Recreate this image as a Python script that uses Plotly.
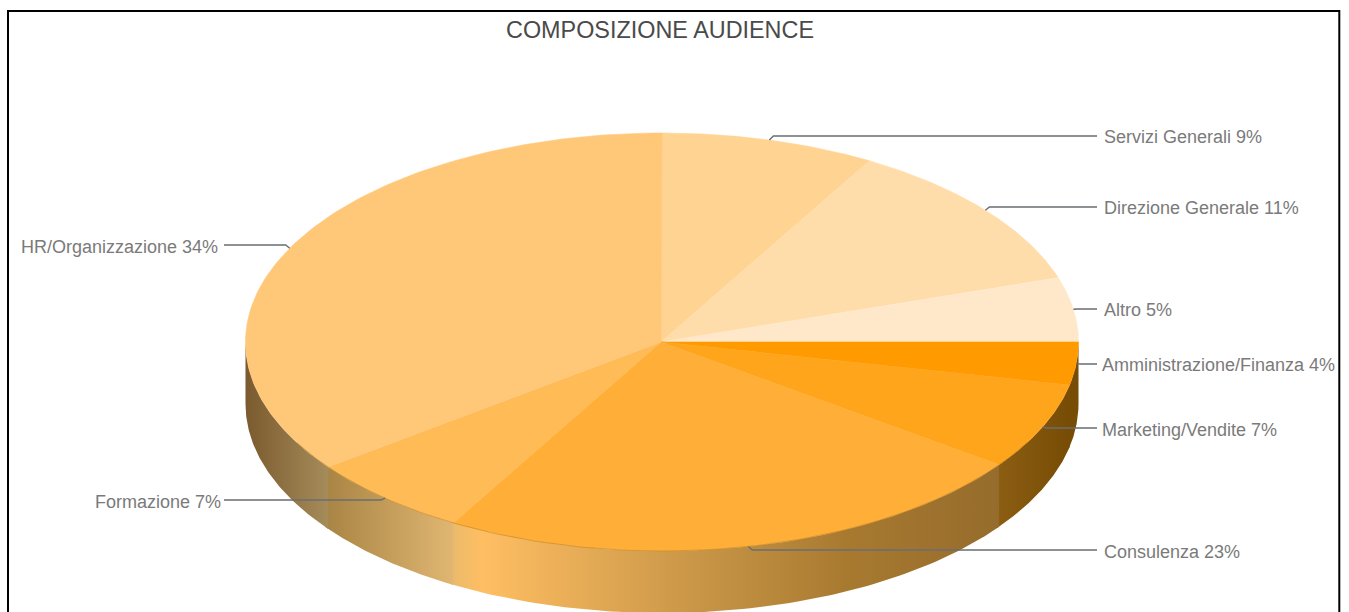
import numpy as np
import plotly.graph_objects as go

# Data, clockwise from 12 o'clock
categories = ["Servizi Generali", "Direzione Generale", "Altro", "Amministrazione/Finanza",
              "Marketing/Vendite", "Consulenza", "Formazione", "HR/Organizzazione"]
wedge_values = [8.3, 11.7, 5.0, 3.3, 6.7, 23.35, 6.45, 35.2]
shown_percent = [9, 11, 5, 4, 7, 23, 7, 34]

# Styles
top_colors = ["#FFD391", "#FFDDAB", "#FFE8C9", "#FF9A00", "#FFA51C", "#FFAF38", "#FFBB55", "#FFC778"]
side_stops = {
    3: [[0, "#774C04"], [1, "#774C04"]],
    4: [[0, "#8C5E14"], [1, "#774C04"]],
    5: [[0, "#E8BA6C"], [0.06, "#FFBE62"], [0.4, "#CF9B4B"], [0.72, "#A87A30"], [1, "#966C2C"]],
    6: [[0, "#A88444"], [1, "#E0B672"]],
    7: [[0, "#7A5A2E"], [1, "#A68C5A"]],
}

# Layout (pixels)
W, H = 1349, 612
CX, CY, RX, RY, DEPTH = 662, 342, 416.5, 209, 62
label_y = [136, 207, 309, 364, 428, 550, 500, 245]
label_x = {True: 1097, False: 224}
text_gap = [5, 5, 5, 3, 3, 5, 1, 4]
text_dy = [0.5, 0.5, 0.5, 0.5, 1.5, 1.5, 1.5, 1.5]


def ell(a, dy=0.0):
    return CX + RX * np.sin(a), CY - RY * np.cos(a) + dy


fracs = np.array(wedge_values) / sum(wedge_values)
edges = np.concatenate([[0], np.cumsum(fracs)]) * 2 * np.pi

fig = go.Figure()
# side walls
for i in side_stops:
    a0 = max(edges[i], np.pi / 2)
    a1 = min(edges[i + 1] + 0.01, 3 * np.pi / 2)
    a = np.linspace(a0, a1, 80)
    xt, yt = ell(a)
    xb, yb = ell(a[::-1], DEPTH)
    fig.add_trace(go.Scatter(
        x=np.r_[xt, xb, xt[0]], y=np.r_[yt, yb, yt[0]], mode="lines", fill="toself",
        line=dict(width=0), hoverinfo="skip", showlegend=False,
        fillgradient=dict(type="horizontal", colorscale=side_stops[i]),
    ))
# top wedges
for i, name in enumerate(categories):
    a = np.linspace(edges[i], edges[i + 1], 120)
    xt, yt = ell(a)
    fig.add_trace(go.Scatter(
        x=np.r_[CX - 1, xt, CX - 1], y=np.r_[CY, yt, CY], mode="lines", fill="toself",
        fillcolor=top_colors[i], line=dict(width=0.6, color=top_colors[i]),
        name=name, hoverinfo="name", showlegend=False,
    ))
# rim line along the front
a = np.linspace(np.pi * 0.66, np.pi * 1.34, 120)
xt, yt = ell(a)
fig.add_trace(go.Scatter(x=xt, y=yt, mode="lines", line=dict(width=0.8, color="rgba(170,115,30,0.6)"),
                         hoverinfo="skip", showlegend=False))
# leaders and labels
annotations = []
for i, name in enumerate(categories):
    mid = (edges[i] + edges[i + 1]) / 2
    ax, ay = ell(mid)
    right = np.sin(mid) > 0
    ex = label_x[right]
    ly = label_y[i]
    step = 4 if right else -4
    fig.add_trace(go.Scatter(
        x=[ax, ax + step, ex], y=[ay, ly, ly], mode="lines",
        line=dict(width=1.4, color="#6A6E72"), hoverinfo="skip", showlegend=False,
    ))
    annotations.append(dict(
        x=ex + (text_gap[i] if right else -text_gap[i]), y=ly + text_dy[i], xref="x", yref="y",
        text=f"{name} {shown_percent[i]}%", showarrow=False,
        xanchor="left" if right else "right", yanchor="middle",
        font=dict(family="Liberation Sans", size=18, color="#7A7A7A"),
    ))

fig.update_layout(
    width=W, height=H, margin=dict(l=0, r=0, t=0, b=0),
    paper_bgcolor="white", plot_bgcolor="white", showlegend=False,
    xaxis=dict(range=[0, W], visible=False, fixedrange=True),
    yaxis=dict(range=[H, 0], visible=False, fixedrange=True),
    title=dict(text="COMPOSIZIONE AUDIENCE", x=660 / W, xanchor="center", y=1 - 30 / H, yanchor="middle",
               font=dict(family="Liberation Sans", size=23.4, color="#4A4A4A")),
    annotations=annotations,
    shapes=[dict(type="rect", xref="x", yref="y", x0=8, y0=11, x1=1339.3, y1=640,
                 line=dict(color="black", width=2), fillcolor="rgba(0,0,0,0)", layer="above")],
)
fig.write_html("out.html", config={"displayModeBar": False},
               post_script="document.body.style.margin='0';document.body.style.overflow='hidden';")
